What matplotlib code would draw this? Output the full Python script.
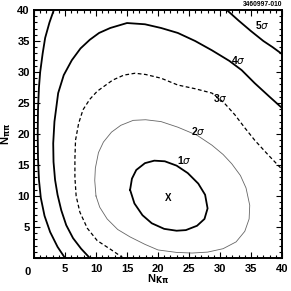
import numpy as np
import matplotlib
matplotlib.use("Agg")
import matplotlib.pyplot as plt
from matplotlib.ticker import MultipleLocator

plt.rcParams['font.family'] = ['Liberation Sans', 'DejaVu Sans']
plt.rcParams['mathtext.fontset'] = 'dejavusans'

# contour lines (N_Kpi, N_pipi)
c1_x = [15.5, 15.8, 16.5, 17.9, 19.4, 21.1, 23.0, 24.8, 26.5, 27.6, 28.0, 27.5, 26.3, 24.5, 23.0, 21.0, 19.0, 17.5, 16.2, 15.5]
c1_y = [11.0, 12.8, 14.2, 15.3, 15.7, 15.6, 14.9, 13.7, 12.0, 10.2, 8.0, 6.3, 5.2, 4.5, 4.4, 4.7, 5.6, 6.9, 8.8, 11.0]

c2_x = [10.0, 9.8, 9.9, 10.4, 11.2, 12.5, 14.0, 16.0, 18.0, 20.5, 23.2, 26.3, 28.7, 30.5, 31.9, 33.3, 34.2, 34.8,
        34.7, 34.0, 32.6, 30.5, 28.0, 25.5, 23.0, 20.0, 17.9, 15.5, 13.5, 11.8, 10.6, 10.0]
c2_y = [10.0, 12.5, 14.5, 17.0, 18.7, 20.3, 21.4, 22.2, 22.3, 22.0, 21.1, 19.8, 18.2, 16.7, 15.2, 13.3, 11.3, 8.5,
        6.3, 4.3, 2.6, 1.5, 0.95, 0.8, 0.9, 1.3, 2.2, 3.4, 4.6, 6.3, 8.2, 10.0]

c3_x = [14.4, 12.5, 10.2, 8.6, 7.4, 6.8, 6.6, 6.6, 6.7, 7.2, 7.9, 9.0, 10.2, 12.7, 14.5, 16.3, 18.0, 20.5, 23.2,
        26.0, 28.7, 30.6, 32.4, 34.0, 35.6, 37.8, 40.0]
c3_y = [0.0, 1.3, 2.8, 4.8, 7.4, 10.0, 13.0, 16.0, 19.0, 21.7, 23.9, 25.6, 26.9, 28.7, 29.5, 29.8, 29.6, 29.0, 27.9,
        27.3, 26.6, 25.1, 23.1, 21.0, 19.0, 16.6, 14.3]

c4_x = [9.0, 7.6, 6.3, 5.2, 4.4, 3.8, 3.4, 3.15, 3.1, 3.3, 3.9, 4.8, 6.1, 7.5, 9.0, 10.5, 12.3, 15.0, 17.9, 20.5,
        23.2, 26.0, 28.7, 31.5, 33.5, 35.6, 38.0, 40.0]
c4_y = [0.0, 1.5, 3.2, 5.3, 7.7, 10.2, 12.6, 15.5, 18.5, 22.0, 26.6, 29.5, 31.9, 33.8, 35.2, 36.3, 37.1, 37.9, 37.7, 37.1,
        36.3, 35.0, 33.5, 31.8, 30.3, 28.2, 26.0, 24.2]

c5a_x = [5.0, 3.8, 2.6, 1.7, 1.1, 0.8, 0.65, 0.6, 0.65, 0.8, 1.0, 1.4, 1.8, 2.5, 3.2]
c5a_y = [0.0, 1.8, 4.2, 6.8, 9.7, 12.6, 16.0, 20.0, 24.0, 27.5, 30.0, 33.0, 35.5, 38.0, 40.0]
c5b_x = [31.1, 33.0, 35.0, 37.0, 38.5, 40.0]
c5b_y = [40.0, 38.3, 36.6, 35.0, 34.0, 32.9]

best_fit = (21.6, 9.7)
labels = ['1', '2', '3', '4', '5']
label_x = [24.2, 26.5, 30.0, 33.0, 36.8]
label_y = [15.8, 20.5, 25.8, 31.9, 37.6]

fig = plt.figure(figsize=(2.91, 2.91), dpi=100)
ax = fig.add_axes([0.1168, 0.1134, 0.8522, 0.8522])

ax.plot(c1_x, c1_y, color='black', lw=1.3)
ax.plot(c2_x, c2_y, color='#666666', lw=0.6)
ax.plot(c3_x, c3_y, color='black', lw=0.9, ls=(0, (3, 2)))
ax.plot(c4_x, c4_y, color='black', lw=1.3)
ax.plot(c5a_x, c5a_y, color='black', lw=1.3)
ax.plot(c5b_x, c5b_y, color='black', lw=1.3)

ax.text(best_fit[0], best_fit[1], 'X', ha='center', va='center', fontsize=7, fontweight='bold')
for lx, ly, s in zip(label_x, label_y, labels):
    ax.text(lx, ly, s + '$\\sigma$', ha='center', va='center', fontsize=7.5, fontweight='bold')

ax.set_xlim(0, 40)
ax.set_ylim(0, 40)
ax.xaxis.set_minor_locator(MultipleLocator(1))
ax.yaxis.set_minor_locator(MultipleLocator(1))
ax.tick_params(which='both', direction='in', top=True, right=True, width=0.8)
ax.tick_params(which='major', length=4.5, labelsize=8, pad=3)
ax.tick_params(which='minor', length=2.2)
ax.tick_params(axis='x', pad=4)
ax.set_xticks(range(0, 41, 5))
ax.set_xticklabels([''] + [str(v) for v in range(5, 41, 5)], fontweight='bold')
ax.set_yticks(range(0, 41, 5))
ax.set_yticklabels([''] + [str(v) for v in range(5, 41, 5)], fontweight='bold')
ax.text(-1.1, -1.5, '0', ha='center', va='top', fontsize=8, fontweight='bold')
for sp in ax.spines.values():
    sp.set_linewidth(1.4)

fig.text(158 / 291, 1 - 279 / 291, 'N$_{\\mathbf{K\\pi}}$', ha='center', va='center', fontsize=8, fontweight='bold')
fig.text(6 / 291, 1 - 134 / 291, 'N$_{\\mathbf{\\pi\\pi}}$', ha='center', va='center', fontsize=8,
         fontweight='bold', rotation=90)
fig.text(282 / 291, 1 - 5 / 291, '3460997-010', ha='right', va='center', fontsize=4.8, fontweight='bold')

fig.savefig('out.png', dpi=100)
